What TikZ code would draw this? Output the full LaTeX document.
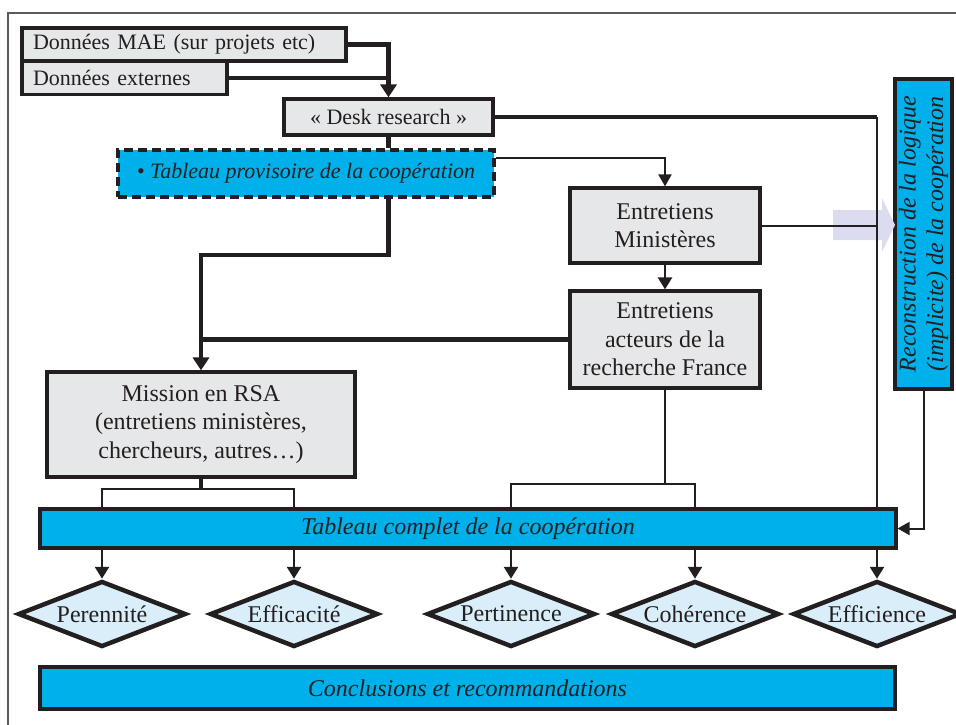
\documentclass[tikz,border=0pt]{standalone}
\usepackage{fontspec}
\setmainfont{Liberation Serif}
\usetikzlibrary{arrows.meta,shapes.geometric}
\definecolor{boxgray}{HTML}{E6E7E8}
\definecolor{coopblue}{HTML}{00B0EB}
\definecolor{paleblue}{HTML}{D9EEF9}
\definecolor{ghostarrow}{HTML}{DCDCF0}
\definecolor{inkblack}{HTML}{231F20}
\definecolor{framegray}{HTML}{5A5A5A}

\begin{document}
\begin{tikzpicture}[
    x=1pt, y=-1pt,
    every node/.style={font=\fontsize{24}{28.5}\selectfont, text=inkblack},
    inbox/.style={draw=inkblack, line width=3.2pt, fill=boxgray, inner sep=0pt, align=center},
    srcbox/.style={inbox, align=left, inner xsep=11pt, minimum height=33pt, font=\fontsize{22}{27}\selectfont},
    bluebox/.style={draw=inkblack, line width=3.2pt, fill=coopblue, inner sep=0pt, align=center, font=\fontsize{24}{27.5}\selectfont\itshape},
    critbox/.style={diamond, aspect=2.55, draw=inkblack, line width=4.5pt, fill=paleblue, minimum width=168pt, minimum height=66pt, inner sep=0pt},
    heavy/.style={line width=4.4pt, draw=inkblack},
    heavyflow/.style={heavy, -{Triangle[length=13pt,width=16pt]}},
    midline/.style={line width=2.6pt, draw=inkblack},
    flow/.style={midline, -{Triangle[length=12pt,width=14pt]}},
    light/.style={line width=2pt, draw=inkblack},
    lightflow/.style={light, -{Triangle[length=12pt,width=13pt]}}
]
\useasboundingbox (0,0) rectangle (956,725);
\draw[framegray, line width=1.5pt] (8,740) -- (8,13) -- (970,13);

% sources
\node[srcbox, text width=302pt] (mae) at (184,44.5) {Données MAE (sur projets etc)};
\node[srcbox, text width=183pt] (ext) at (124.5,78) {Données externes};
\node[inbox, font=\fontsize{22}{27}\selectfont, minimum width=209pt, minimum height=36pt] (desk) at (388.5,117) {«~Desk research~»};
\node[bluebox, dash pattern=on 9pt off 5pt, line width=3.6pt, minimum width=376pt, minimum height=47pt, font=\fontsize{22}{27}\selectfont\itshape] (prov) at (306,173.5) {• Tableau provisoire de la coopération};

% interviews
\node[inbox, minimum width=190pt, minimum height=75pt] (minis) at (665,225.5) {Entretiens\\Ministères};
\node[inbox, minimum width=190pt, minimum height=97pt] (acteurs) at (665,339.5) {Entretiens\\acteurs de la\\recherche France};
\node[inbox, minimum width=308pt, minimum height=105pt] (mission) at (201,424.5) {Mission en RSA\\(entretiens ministères,\\chercheurs, autres…)};
\node[bluebox, rotate=90, minimum width=310pt, minimum height=57pt] (recon) at (923.5,234) {Reconstruction de la logique\\(implicite) de la coopération};

% synthesis
\node[bluebox, minimum width=856pt, minimum height=39pt] (complet) at (468,528.5) {Tableau complet de la coopération};
\node[critbox] (perennite) at (102,614) {Perennité};
\node[critbox] (efficacite) at (294,614) {Efficacité};
\node[critbox] (pertinence) at (511,614) {Pertinence};
\node[critbox] (coherence) at (695,614) {Cohérence};
\node[critbox] (efficience) at (877,614) {Efficience};
\node[bluebox, minimum width=855pt, minimum height=42pt] (concl) at (467.5,688) {Conclusions et recommandations};

% faded arrow towards the reconstruction
\fill[ghostarrow] (833,210) -- (882,210) -- (882,198) -- (895,225) -- (882,252) -- (882,240) -- (833,240) -- cycle;

\coordinate (deskturn) at (efficience |- desk.east);
\coordinate (provbend) at (388.5,255);
\coordinate (mjoin) at (201,489);
\coordinate (ajoin) at (665,484);

\draw[heavyflow] (mae.east) -| (desk.north);
\draw[heavy] (ext.east) -- (ext.east -| desk.north);
\draw[heavy] (desk.east) -- (deskturn);
\draw[midline] (deskturn) -- (deskturn |- complet.north);
\draw[heavy] (desk.south) -- (desk.south |- prov.north);
\draw[lightflow] ([yshift=-10pt]prov.north east) -| (minis.north);
\draw[heavyflow] (prov.south -| desk.south) -- (provbend) -| (mission.north);
\draw[heavy] (acteurs.west) -- (acteurs.west -| mission.north);
\draw[flow] (minis) -- (acteurs);
\draw[light] (minis.east) -- (minis.east -| deskturn);
\draw[lightflow] (recon.west) |- (complet.east);

\draw[heavy] (mission.south) -- (mjoin);
\draw[midline] (perennite |- complet.north) |- (mjoin) -| (efficacite |- complet.north);
\draw[midline] (acteurs.south) -- (ajoin);
\draw[midline] (pertinence |- complet.north) |- (ajoin) -| (coherence |- complet.north);

\foreach \crit in {perennite,efficacite,pertinence,coherence,efficience}
    \draw[flow] (complet.south -| \crit.north) -- (\crit.north);
\end{tikzpicture}
\end{document}
